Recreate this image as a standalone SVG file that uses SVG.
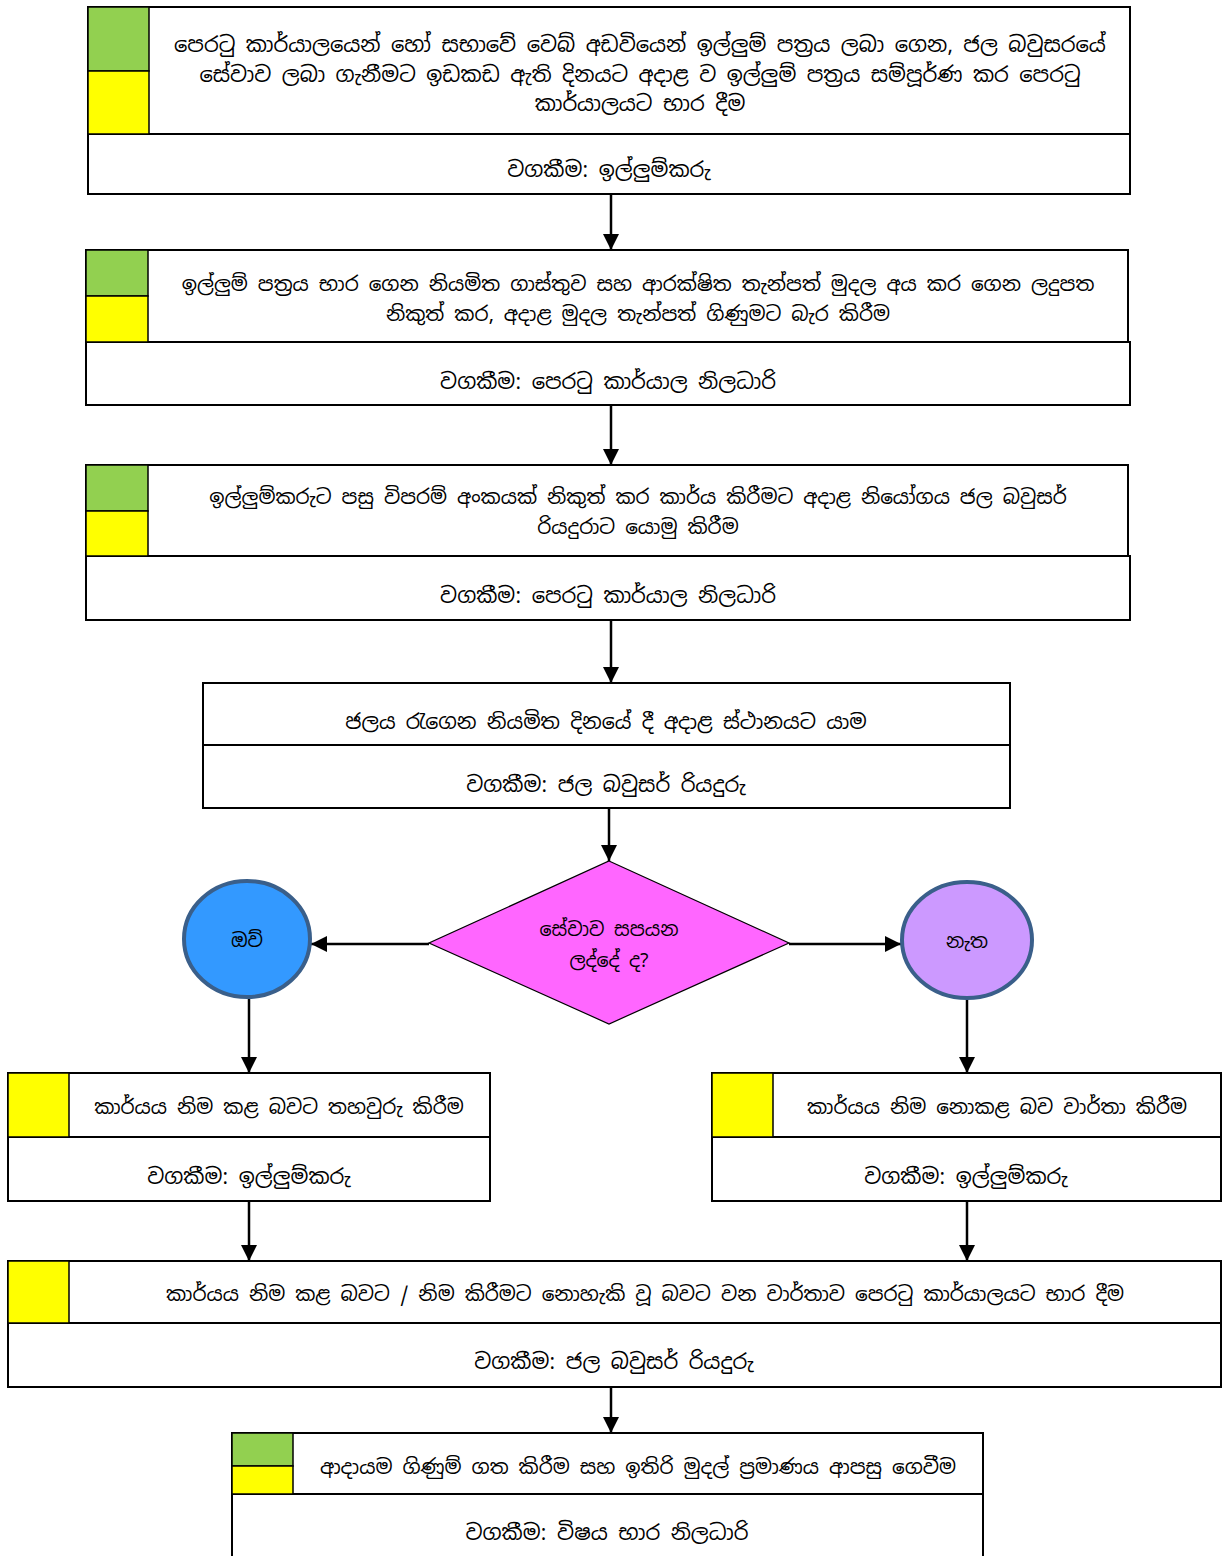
<svg xmlns="http://www.w3.org/2000/svg" width="1227" height="1556" viewBox="0 0 1227 1556">
<style>
.box{fill:#fff;stroke:#000;stroke-width:2}
.g{fill:#92D050;stroke:#000;stroke-width:1.5}
.y{fill:#FFFF00;stroke:#000;stroke-width:1.5}
.t{font-family:"Noto Sans Sinhala","Iskoola Pota","Noto Sans","DejaVu Sans",sans-serif;font-size:21px;fill:#000;text-anchor:middle;dominant-baseline:central}
.m{font-size:20px}
.s{font-size:19px}
.c{stroke:#000;stroke-width:2.5;fill:none;marker-end:url(#ah)}
</style>
<defs>
<marker id="ah" viewBox="0 0 10 10" refX="10" refY="5" markerWidth="6.5" markerHeight="6.5" markerUnits="strokeWidth" orient="auto">
<path d="M0,0 L10,5 L0,10 z" fill="#000"/>
</marker>
</defs>
<rect width="1227" height="1556" fill="#fff"/>
<g id="connectors">
<line class="c" x1="611" y1="194" x2="611" y2="250"/>
<line class="c" x1="611" y1="405" x2="611" y2="465"/>
<line class="c" x1="611" y1="620" x2="611" y2="683"/>
<line class="c" x1="609" y1="808" x2="609" y2="861"/>
<line class="c" x1="429" y1="944" x2="311" y2="944"/>
<line class="c" x1="789" y1="944" x2="901" y2="944"/>
<line class="c" x1="249" y1="997" x2="249" y2="1073"/>
<line class="c" x1="967" y1="998" x2="967" y2="1073"/>
<line class="c" x1="249" y1="1201" x2="249" y2="1261"/>
<line class="c" x1="967" y1="1201" x2="967" y2="1261"/>
<line class="c" x1="611" y1="1387" x2="611" y2="1433"/>
</g>
<g id="n1">
<rect class="box" x="88" y="7" width="1042" height="187"/>
<line x1="88" y1="134" x2="1130" y2="134" stroke="#000" stroke-width="2"/>
<rect class="g" x="88" y="7" width="61" height="64"/>
<rect class="y" x="88" y="71" width="61" height="63"/>
<text class="t" x="640" y="44">පෙරටු කාර්යාලයෙන් හෝ සභාවේ වෙබ් අඩවියෙන් ඉල්ලුම් පත්‍රය ලබා ගෙන, ජල බවුසරයේ</text>
<text class="t" x="640" y="74">සේවාව ලබා ගැනීමට ඉඩකඩ ඇති දිනයට අදාළ ව ඉල්ලුම් පත්‍රය සම්පූර්ණ කර පෙරටු</text>
<text class="t" x="640" y="103">කාර්යාලයට භාර දීම</text>
<text class="t" x="609" y="169">වගකීම: ඉල්ලුම්කරු</text>
</g>
<g id="n2">
<rect class="box" x="86" y="342" width="1044" height="63"/>
<rect class="box" x="86" y="250" width="1042" height="92"/>
<rect class="g" x="86" y="250" width="62" height="46"/>
<rect class="y" x="86" y="296" width="62" height="46"/>
<text class="t m" x="638" y="284">ඉල්ලුම් පත්‍රය භාර ගෙන නියමිත ගාස්තුව සහ ආරක්ෂිත තැන්පත් මුදල අය කර ගෙන ලදුපත</text>
<text class="t m" x="638" y="314">නිකුත් කර, අදාළ මුදල තැන්පත් ගිණුමට බැර කිරීම</text>
<text class="t" x="608" y="381">වගකීම: පෙරටු කාර්යාල නිලධාරි</text>
</g>
<g id="n3">
<rect class="box" x="86" y="556" width="1044" height="64"/>
<rect class="box" x="86" y="465" width="1042" height="91"/>
<rect class="g" x="86" y="465" width="62" height="46"/>
<rect class="y" x="86" y="511" width="62" height="45"/>
<text class="t m" x="638" y="497">ඉල්ලුම්කරුට පසු විපරම් අංකයක් නිකුත් කර කාර්ය කිරීමට අදාළ නියෝගය ජල බවුසර්</text>
<text class="t m" x="638" y="527">රියදුරාට යොමු කිරීම</text>
<text class="t" x="608" y="595">වගකීම: පෙරටු කාර්යාල නිලධාරි</text>
</g>
<g id="n4">
<rect class="box" x="203" y="683" width="807" height="125"/>
<line x1="203" y1="745" x2="1010" y2="745" stroke="#000" stroke-width="2"/>
<text class="t" x="606" y="721" style="font-size:20.5px">ජලය රැගෙන නියමිත දිනයේ දී අදාළ ස්ථානයට යාම</text>
<text class="t" x="606" y="784">වගකීම: ජල බවුසර් රියදුරු</text>
</g>
<g id="decision">
<polygon points="609,861 789,943 609,1024 429,943" fill="#FF66FF" stroke="#000" stroke-width="1.2"/>
<text class="t s" x="609" y="929">සේවාව සපයන</text>
<text class="t s" x="609" y="960">ලද්දේ ද?</text>
</g>
<g id="yes">
<ellipse cx="247" cy="939" rx="63" ry="58" fill="#3399FF" stroke="#3A5F8A" stroke-width="4"/>
<text class="t s" x="247" y="940">ඔව්</text>
</g>
<g id="no">
<ellipse cx="967" cy="940" rx="65" ry="58" fill="#CC99FF" stroke="#3A5F8A" stroke-width="4"/>
<text class="t s" x="967" y="941">නැත</text>
</g>
<g id="n5">
<rect class="box" x="8" y="1073" width="482" height="128"/>
<line x1="8" y1="1137" x2="490" y2="1137" stroke="#000" stroke-width="2"/>
<rect class="y" x="8" y="1073" width="61" height="64"/>
<text class="t m" x="279" y="1107">කාර්යය නිම කළ බවට තහවුරු කිරීම</text>
<text class="t" x="249" y="1176">වගකීම: ඉල්ලුම්කරු</text>
</g>
<g id="n6">
<rect class="box" x="712" y="1073" width="509" height="128"/>
<line x1="712" y1="1137" x2="1221" y2="1137" stroke="#000" stroke-width="2"/>
<rect class="y" x="712" y="1073" width="61" height="64"/>
<text class="t m" x="997" y="1107">කාර්යය නිම නොකළ බව වාර්තා කිරීම</text>
<text class="t" x="966" y="1176">වගකීම: ඉල්ලුම්කරු</text>
</g>
<g id="n7">
<rect class="box" x="8" y="1261" width="1213" height="126"/>
<line x1="8" y1="1323" x2="1221" y2="1323" stroke="#000" stroke-width="2"/>
<rect class="y" x="8" y="1261" width="61" height="62"/>
<text class="t m" x="645" y="1294">කාර්යය නිම කළ බවට / නිම කිරීමට නොහැකි වූ බවට වන වාර්තාව පෙරටු කාර්යාලයට භාර දීම</text>
<text class="t" x="614" y="1361">වගකීම: ජල බවුසර් රියදුරු</text>
</g>
<g id="n8">
<rect class="box" x="232" y="1433" width="751" height="140"/>
<line x1="232" y1="1494" x2="983" y2="1494" stroke="#000" stroke-width="2"/>
<rect class="g" x="232" y="1433" width="61" height="33"/>
<rect class="y" x="232" y="1466" width="61" height="28"/>
<text class="t m" x="638" y="1467">ආදායම ගිණුම් ගත කිරීම සහ ඉතිරි මුදල් ප්‍රමාණය ආපසු ගෙවීම</text>
<text class="t" x="607" y="1532">වගකීම: විෂය භාර නිලධාරි</text>
</g>
</svg>
